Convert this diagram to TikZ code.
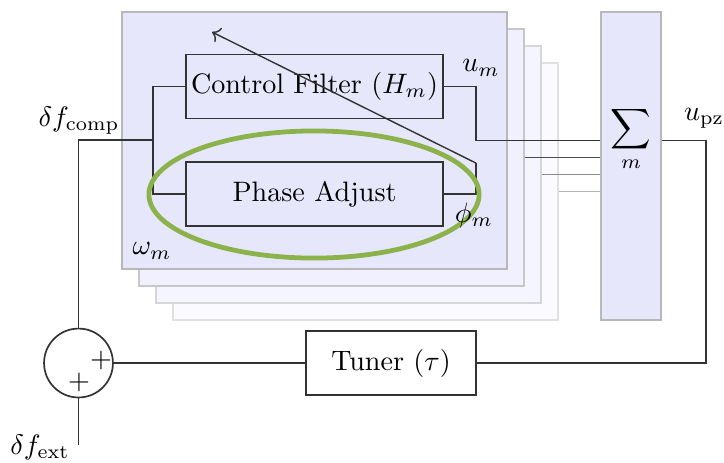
\documentclass[tikz,border=0pt]{standalone}
\usetikzlibrary{arrows.meta}
\definecolor{modfill}{RGB}{231,231,251}
\definecolor{hlgreen}{RGB}{140,178,76}
\begin{document}
\begin{tikzpicture}[x=0.0125cm,y=-0.0125cm,
  wire/.style={draw=black!80,line width=0.5pt},
  modbox/.style={draw=#1,line width=0.6pt,minimum width=136.9pt,minimum height=91.4pt,inner sep=0pt},
  block/.style={draw=black!80,line width=0.6pt,fill=modfill,minimum width=91.4pt,minimum height=22.8pt,inner sep=0pt},
  lbl/.style={inner sep=0pt}]
\useasboundingbox (0,0) rectangle (724,462);

% stacked module copies, back to front
\node[modbox=black!12,fill=blue!2] (mod4) at (365.5,191.5) {};
\node[modbox=black!16,fill=blue!4] (mod3) at (348.5,174.5) {};
\node[modbox=black!22,fill=blue!6] (mod2) at (331.5,157.5) {};
\node[modbox=black!28,fill=modfill] (mod) at (314.5,140.5) {};

% summation block
\node[draw=black!28,line width=0.6pt,fill=modfill,minimum width=21.3pt,minimum height=109.5pt,inner sep=0pt] (sigbox) at (631,166) {};
\node[lbl] (sig) at (631,139) {$\displaystyle\sum_m$};

% filter and phase blocks
\node[block] (cf) at (314.5,86.5) {Control Filter ($H_m$)};
\node[block] (pa) at (314.5,194) {Phase Adjust};

% tuner and summing junction
\node[block,fill=white,minimum width=60.4pt] (tuner) at (391,363) {Tuner ($\tau$)};
\node[draw=black!80,line width=0.6pt,circle,minimum size=24.5pt,inner sep=0pt] (sum) at (78.5,363) {};
\node[lbl] (p1) at (101,360) {$+$};
\node[lbl] (p2) at (79,382) {$+$};

% wiring inside the module
\coordinate (split) at (154,140);
\draw[wire] (sum.north) |- (split);
\draw[wire] (cf.west) -- ++(-32,0) |- (pa.west);
\draw[wire] (cf.east) -- ++(32,0) |- (sigbox.west |- mod.east);
\draw[wire] (pa.east) -- ++(32,0) -- ++(0,-31) coordinate (ptop);
\coordinate (tip) at (212,32);
\draw[wire,->] (ptop) -- (tip);

% outputs of the other copies
\draw[line width=0.5pt,draw=black!70] (mod2.east) -- (sigbox.west |- mod2.east);
\draw[line width=0.5pt,draw=black!45] (mod3.east) -- (sigbox.west |- mod3.east);
\draw[line width=0.5pt,draw=black!30] (mod4.east) -- (sigbox.west |- mod4.east);

% feedback path
\draw[wire] (sigbox.east |- mod.east) -- ++(44,0) |- (tuner.east);
\draw[wire] (tuner.west) -- (sum.east);
\coordinate (ext) at (78.5,445);
\draw[wire] (sum.south) -- (ext);

% highlight
\draw[hlgreen,line width=1.7pt] (314,194.5) ellipse [x radius=58.7pt,y radius=22.6pt];

% labels
\node[lbl] (lcomp) at (79,121) {$\delta f_{\mathrm{comp}}$};
\node[lbl] (lpz) at (704,118) {$u_{\mathrm{pz}}$};
\node[lbl] (lum) at (481,68) {$u_m$};
\node[lbl] (lphi) at (474,215) {$\phi_m$};
\node[lbl] (lom) at (152,251) {$\omega_m$};
\node[lbl] (lext) at (40,447) {$\delta f_{\mathrm{ext}}$};
\end{tikzpicture}
\end{document}
